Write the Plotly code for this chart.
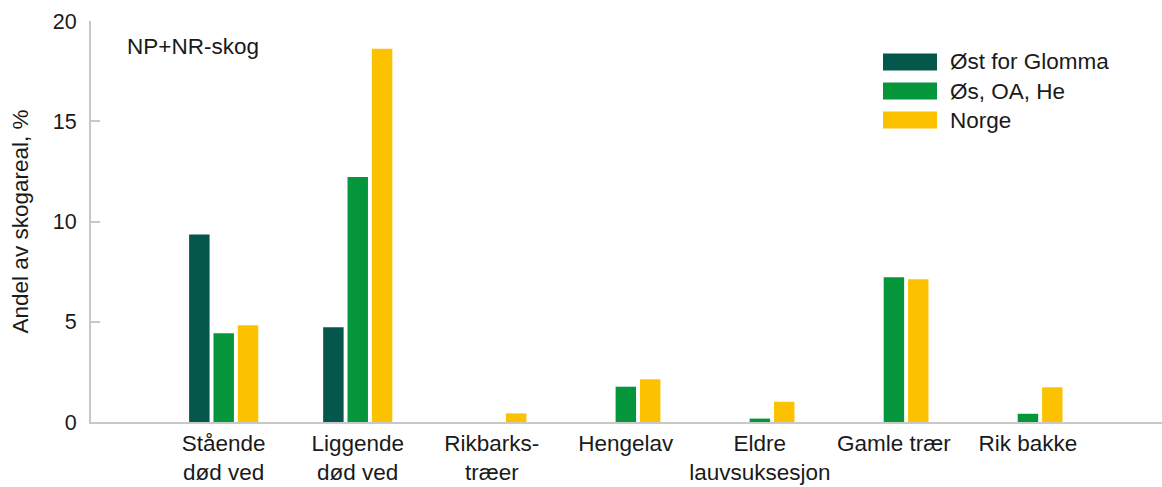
import plotly.graph_objects as go

categories = ["Stående<br>død ved", "Liggende<br>død ved", "Rikbarks-<br>træer",
              "Hengelav", "Eldre<br>lauvsuksesjon", "Gamle trær", "Rik bakke"]
ost_for_glomma = [9.35, 4.72, None, None, None, None, None]
os_oa_he = [4.43, 12.22, None, 1.76, 0.17, 7.22, 0.41]
norge = [4.83, 18.62, 0.43, 2.13, 1.01, 7.12, 1.73]

series_names = ["Øst for Glomma", "Øs, OA, He", "Norge"]
series_values = [ost_for_glomma, os_oa_he, norge]
series_colors = ["#04574b", "#05963c", "#fcc200"]

y_ticks = [0, 5, 10, 15, 20]
y_title = "Andel av skogareal, %"
panel_label = "NP+NR-skog"

FONT = "Liberation Sans, Arial, sans-serif"
TXT = "#1a1a1a"
FS = 22.5

fig = go.Figure()
for name, vals, col in zip(series_names, series_values, series_colors):
    fig.add_trace(go.Bar(x=categories, y=vals, name=name, marker_color=col,
                         marker_line_width=0, showlegend=False))

W, H = 1162, 487
ml, mr, mt, mb = 91, 0, 21, 65
pw, ph = W - ml - mr, H - mt - mb

def px_x(p):
    return (p - ml) / pw

def px_y(p):
    return (H - mb - p) / ph

# custom legend with wide swatches
row_y = [62, 91, 120]
for name, col, ry in zip(series_names, series_colors, row_y):
    fig.add_shape(type="rect", xref="paper", yref="paper",
                  x0=px_x(883), x1=px_x(937), y0=px_y(ry + 8.5), y1=px_y(ry - 8.5),
                  fillcolor=col, line_width=0)
    fig.add_annotation(xref="paper", yref="paper", x=px_x(948), y=px_y(ry),
                       text=name, showarrow=False, xanchor="left", yanchor="middle",
                       font=dict(family=FONT, size=FS, color=TXT))

fig.add_annotation(xref="paper", yref="paper", x=px_x(125), y=px_y(46),
                   text=panel_label, showarrow=False, xanchor="left", yanchor="middle",
                   font=dict(family=FONT, size=FS, color=TXT))

fig.update_layout(
    width=W, height=H,
    margin=dict(l=ml, r=mr, t=mt, b=mb),
    paper_bgcolor="white", plot_bgcolor="white",
    barmode="group", bargap=0.455, bargroupgap=0.16,
    font=dict(family=FONT, size=FS, color=TXT),
)
fig.update_xaxes(range=[-0.99, 7.0], showline=True, linecolor="#c8c8c8", linewidth=2,
                 ticks="", showgrid=False, zeroline=False, ticklabelstandoff=0,
                 tickfont=dict(family=FONT, size=FS, color=TXT), automargin=False)
fig.update_yaxes(range=[0, 20], tickvals=y_ticks, showline=True, linecolor="#c8c8c8",
                 linewidth=2, ticks="inside", ticklen=9, tickcolor="#c8c8c8", tickwidth=2,
                 showgrid=False, zeroline=False, ticklabelstandoff=8,
                 tickfont=dict(family=FONT, size=21.5, color=TXT),
                 title=dict(text=y_title, standoff=18, font=dict(family=FONT, size=FS, color=TXT)),
                 automargin=False)

fig.write_html("out.html", config={"displayModeBar": False},
               post_script="document.body.style.margin='0';document.body.style.overflow='hidden';")
